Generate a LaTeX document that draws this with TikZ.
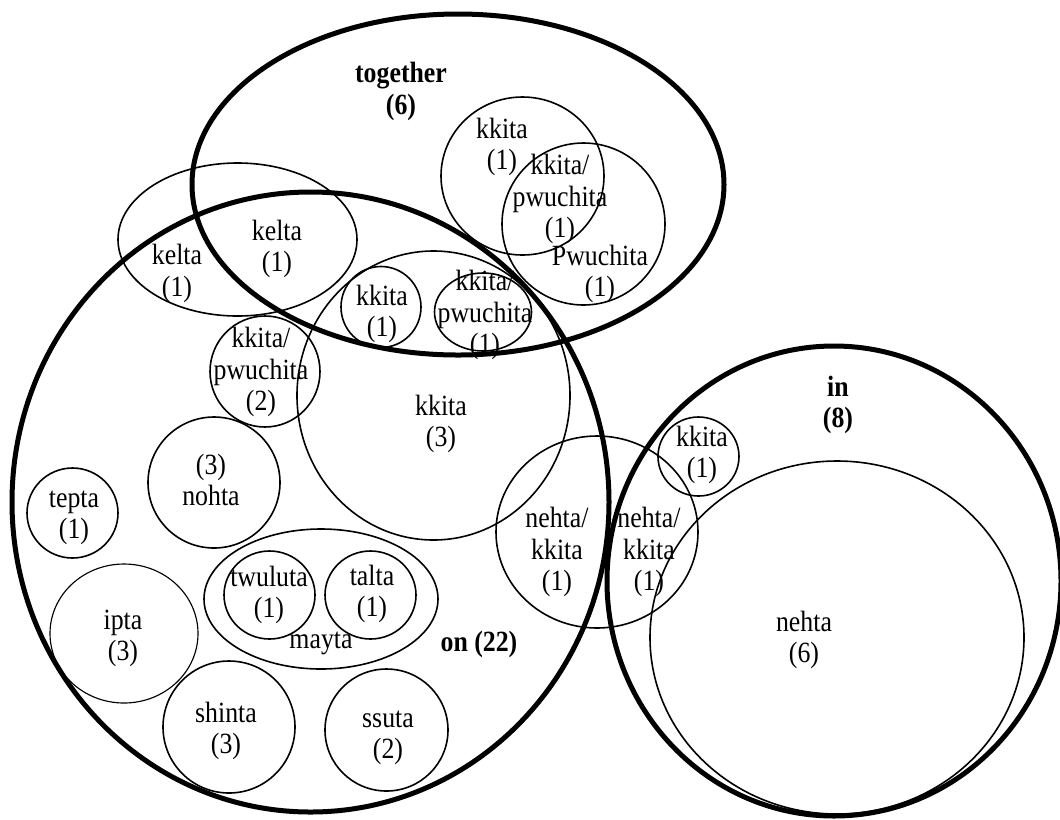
\documentclass[tikz,border=0pt]{standalone}
\usepackage{fontspec}
\setmainfont{Liberation Serif}[FakeStretch=0.88]
\begin{document}
\begin{tikzpicture}[x=0.75pt,y=-0.75pt,
  heavy/.style={line width=3.75pt},
  light/.style={line width=1.2pt},
  lighter/.style={line width=0.85pt},
  lbl/.style={align=center,inner sep=0pt,font=\fontsize{22}{23.4}\selectfont},
  blbl/.style={lbl,font=\fontsize{22}{23.4}\selectfont\bfseries}]
\useasboundingbox (0,0) rectangle (1060,819);
\newcommand{\vennshape}[5]{\draw[#1] (#2,#3) ellipse [x radius=#4, y radius=#5];}
% main sets
\vennshape{heavy}{458}{184.5}{266}{170.5}
\vennshape{heavy}{310.5}{502}{298.5}{310}
\vennshape{heavy}{834}{581}{227}{235}
% subsets
\vennshape{light}{237.5}{239.5}{119.5}{76.5}
\vennshape{light}{522.5}{176}{81.5}{79}
\vennshape{light}{583.5}{224}{81.5}{81}
\vennshape{light}{381}{307}{40}{40.5}
\vennshape{light}{483}{312}{48.5}{39}
\vennshape{light}{433.5}{395.5}{136.5}{144.5}
\vennshape{light}{265}{371.5}{55}{55.5}
\vennshape{light}{214}{482.5}{66}{65.5}
\vennshape{light}{72.5}{513}{45.5}{45}
\vennshape{lighter}{124}{633.5}{74}{69.5}
\vennshape{light}{229}{727}{66}{66}
\vennshape{light}{386.5}{730}{61.5}{61}
\vennshape{light}{321}{599}{117}{70}
\vennshape{light}{269.5}{595}{45.5}{44}
\vennshape{light}{370.5}{595}{45.5}{44}
\vennshape{light}{597}{532}{101}{96}
\vennshape{light}{698.5}{456.5}{40.5}{39.5}
\vennshape{light}{837}{637.5}{187}{176.5}
% labels
\node[blbl] (together) at (401,91.5) {together\\(6)};
\node[blbl] (on) at (479,644) {on (22)};
\node[blbl] (in) at (838,405) {in\\(8)};
\node[lbl] (tk1) at (502,147) {kkita\\(1)};
\node[lbl] (tkp) at (560,199) {kkita/\\pwuchita\\(1)};
\node[lbl] (tpw) at (600,274) {Pwuchita\\(1)};
\node[lbl] (kelA) at (177,273.5) {kelta\\(1)};
\node[lbl] (kelB) at (277,249) {kelta\\(1)};
\node[lbl] (sk1) at (382,314) {kkita\\(1)};
\node[lbl] (skp) at (485,315) {kkita/\\pwuchita\\(1)};
\node[lbl] (kp2) at (261,372) {kkita/\\pwuchita\\(2)};
\node[lbl] (k3) at (441,424) {kkita\\(3)};
\node[lbl] (noh) at (211,480) {(3)\\nohta};
\node[lbl] (tep) at (74,518) {tepta\\(1)};
\node[lbl] (nkA) at (557,552) {nehta/\\kkita\\(1)};
\node[lbl] (nkB) at (649,552) {nehta/\\kkita\\(1)};
\node[lbl] (ik1) at (702,455) {kkita\\(1)};
\node[lbl] (twu) at (269,595) {twuluta\\(1)};
\node[lbl] (tal) at (372,594) {talta\\(1)};
\node[lbl] (may) at (321,643) {mayta};
\node[lbl] (ipt) at (123,638) {ipta\\(3)};
\node[lbl] (shi) at (226,731) {shinta\\(3)};
\node[lbl] (ssu) at (388,738) {ssuta\\(2)};
\node[lbl] (neh) at (804,640) {nehta\\(6)};
\end{tikzpicture}
\end{document}
